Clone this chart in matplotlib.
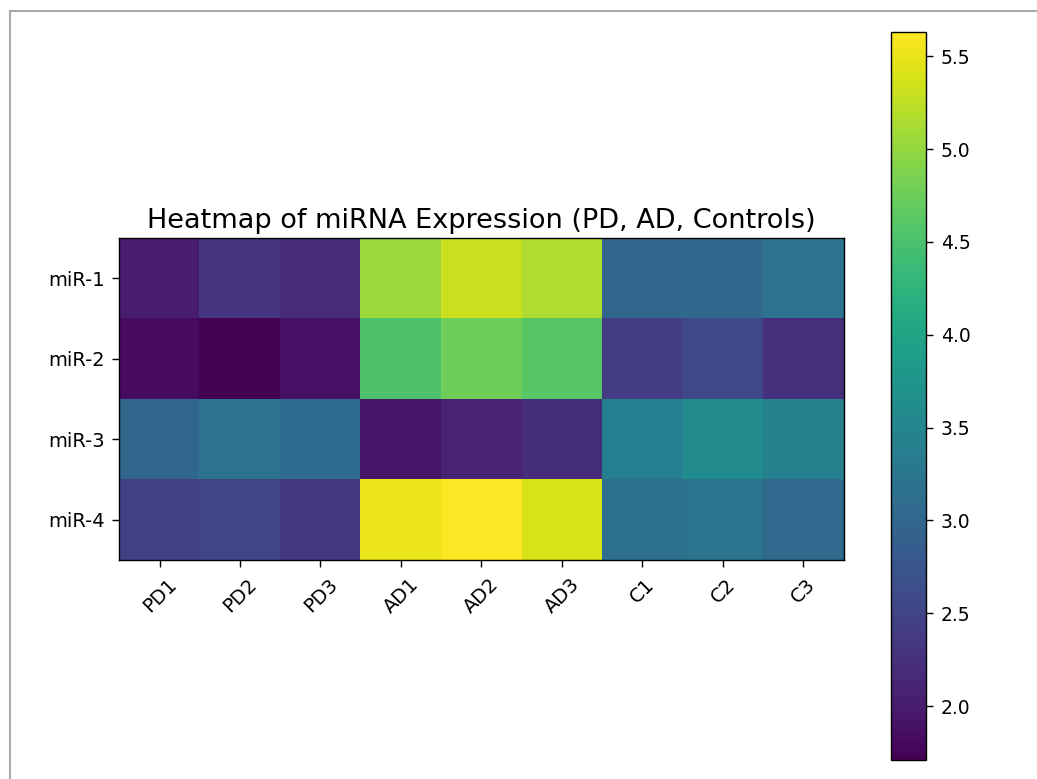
import numpy as np
import matplotlib
matplotlib.use("Agg")
import matplotlib.pyplot as plt
from matplotlib.lines import Line2D

samples = ["PD1", "PD2", "PD3", "AD1", "AD2", "AD3", "C1", "C2", "C3"]
mirnas = ["miR-1", "miR-2", "miR-3", "miR-4"]

mir1 = [2.02, 2.30, 2.18, 5.04, 5.32, 5.16, 3.00, 3.02, 3.20]
mir2 = [1.83, 1.71, 1.90, 4.53, 4.77, 4.61, 2.42, 2.57, 2.26]
mir3 = [3.00, 3.20, 3.08, 1.95, 2.10, 2.22, 3.40, 3.60, 3.44]
mir4 = [2.45, 2.53, 2.34, 5.51, 5.63, 5.40, 3.16, 3.22, 3.05]

data = np.array([mir1, mir2, mir3, mir4])

# reference looks like a scaled-up render
plt.rcParams.update({
    "font.size": 14,
    "xtick.major.size": 5,
    "ytick.major.size": 5,
    "xtick.major.pad": 5.5,
    "ytick.major.pad": 5.5,
    "xtick.major.width": 1.0,
    "ytick.major.width": 1.0,
    "axes.linewidth": 1.0,
})

fig = plt.figure(figsize=(10.37, 7.79), dpi=100)
ax = fig.add_axes([0.1128, 0.2811, 0.703, 0.4133])
cax = fig.add_axes([0.8592, 0.0244, 0.0338, 0.9345])

im = ax.imshow(data, cmap="viridis", aspect="equal")
ax.set_xticks(range(len(samples)))
ax.set_xticklabels(samples, rotation=45)
ax.set_yticks(range(len(mirnas)))
ax.set_yticklabels(mirnas)
ax.set_title("Heatmap of miRNA Expression (PD, AD, Controls)", fontsize=19.5, pad=7)

cb = fig.colorbar(im, cax=cax)
cb.outline.set_linewidth(1.0)
cax.tick_params(labelsize=13.5)

# screenshot border at top and left
fig.add_artist(Line2D([10/1037, 1], [1 - 11/779, 1 - 11/779], color="#aaaaaa", lw=1.5))
fig.add_artist(Line2D([10/1037, 10/1037], [0, 1 - 11/779], color="#aaaaaa", lw=1.5))

fig.savefig("out.png", dpi=100)
